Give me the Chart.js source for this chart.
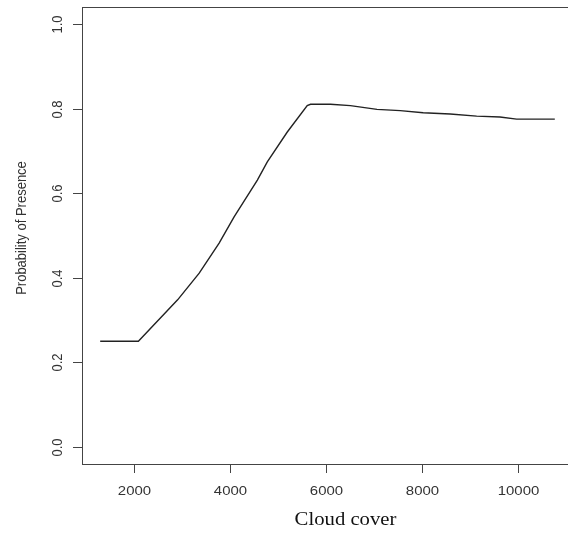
<!DOCTYPE html>
<html>
<head>
<meta charset="utf-8">
<script src="https://cdn.jsdelivr.net/npm/chart.js@4/dist/chart.umd.min.js"></script>
<style>
  html, body { margin: 0; padding: 0; background: #fff; overflow: hidden; }
  #wrap { width: 640px; height: 535px; }
</style>
</head>
<body>
<div id="wrap"><canvas id="c" width="640" height="535"></canvas></div>
<script>
// Partial response of presence probability to cloud cover
const cloudCover = [1294, 2090, 2908, 3358, 3773, 4085, 4570, 4777, 5190, 5609, 5678, 6094, 6509, 7063, 7548, 8026, 8587, 9140, 9626, 9973, 10769];
const probability = [0.25, 0.25, 0.348, 0.411, 0.482, 0.544, 0.631, 0.674, 0.744, 0.807, 0.810, 0.810, 0.807, 0.798, 0.795, 0.790, 0.787, 0.782, 0.780, 0.775, 0.775];
const xTicks = [2000, 4000, 6000, 8000, 10000];
const yTicks = [0.0, 0.2, 0.4, 0.6, 0.8, 1.0];
const xTitle = 'Cloud cover';
const yTitle = 'Probability of Presence';

const points = cloudCover.map((x, i) => ({ x: x, y: probability[i] }));

// text drawn slightly wider than tall, like the stretched device output
const STRETCH = 1.15;
function label(ctx, text, x, y, rotate) {
  ctx.save();
  ctx.translate(x, y);
  if (rotate) {
    ctx.rotate(-Math.PI / 2);
    ctx.scale(1, STRETCH);
  } else {
    ctx.scale(STRETCH, 1);
  }
  ctx.fillText(text, 0, 0);
  ctx.restore();
}

// Base-graphics style frame, ticks and labels drawn from the chart scales
const framePlugin = {
  id: 'frame',
  afterDraw(chart) {
    const ctx = chart.ctx;
    const a = chart.chartArea;
    const xs = chart.scales.x, ys = chart.scales.y;
    ctx.save();
    ctx.strokeStyle = '#444';
    ctx.lineWidth = 1;
    ctx.strokeRect(Math.round(a.left) + 0.5, Math.round(a.top) + 0.5,
                   Math.round(a.right - a.left), Math.round(a.bottom - a.top));

    ctx.fillStyle = '#333';
    ctx.font = '13px "Liberation Sans", Arial, sans-serif';
    ctx.textAlign = 'center';
    ctx.textBaseline = 'middle';
    // x axis ticks
    xTicks.forEach(v => {
      const px = Math.round(xs.getPixelForValue(v)) + 0.5;
      ctx.beginPath();
      ctx.moveTo(px, a.bottom);
      ctx.lineTo(px, a.bottom + 9);
      ctx.stroke();
      label(ctx, String(v), px, a.bottom + 27, false);
    });
    // y axis ticks, labels rotated
    yTicks.forEach(v => {
      const py = Math.round(ys.getPixelForValue(v)) + 0.5;
      ctx.beginPath();
      ctx.moveTo(a.left - 9, py);
      ctx.lineTo(a.left, py);
      ctx.stroke();
      label(ctx, v.toFixed(1), a.left - 24.5, py, true);
    });
    // axis titles
    label(ctx, yTitle, 21.5, 228, true);

    ctx.fillStyle = '#111';
    ctx.font = '18px "Liberation Serif", "Times New Roman", serif';
    label(ctx, xTitle, 345.5, 520, false);
    ctx.restore();
  }
};

new Chart(document.getElementById('c'), {
  type: 'scatter',
  data: {
    datasets: [{
      data: points,
      showLine: true,
      borderColor: '#222',
      borderWidth: 1.4,
      pointRadius: 0,
      tension: 0,
      fill: false
    }]
  },
  options: {
    responsive: false,
    animation: false,
    layout: { padding: { left: 82, top: 7, right: 40, bottom: 71 } },
    plugins: { legend: { display: false }, tooltip: { enabled: false } },
    scales: {
      x: { type: 'linear', min: 915, max: 11711, display: false },
      y: { type: 'linear', min: -0.04, max: 1.04, display: false }
    }
  },
  plugins: [framePlugin]
});
</script>
</body>
</html>
